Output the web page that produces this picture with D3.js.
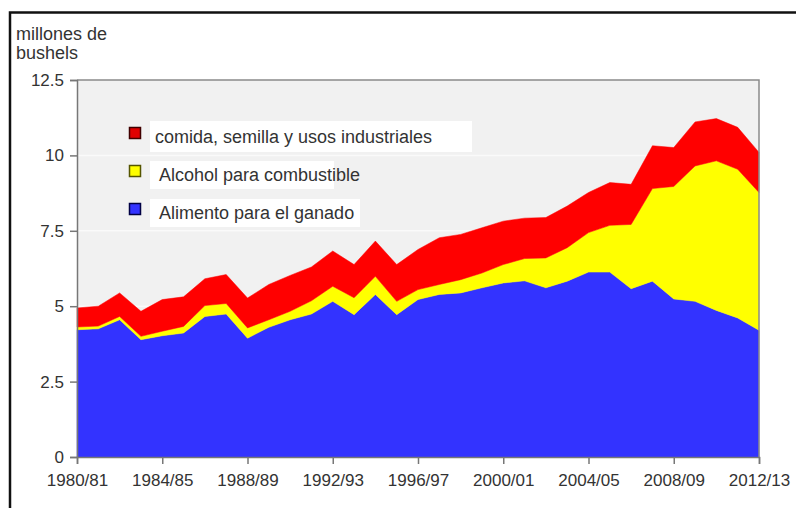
<!DOCTYPE html>
<html>
<head>
<meta charset="utf-8">
<script src="https://cdn.jsdelivr.net/npm/d3@7"></script>
<style>
  body { margin: 0; background: #fff; }
  text { font-family: "Liberation Sans", Arial, sans-serif; fill: #333; }
</style>
</head>
<body>
<div id="chart"></div>
<script>
var width = 796, height = 508;

// campañas 1980/81 .. 2012/13
var seasons = [];
for (var yr = 1980; yr <= 2012; yr++) {
  seasons.push(yr + "/" + String((yr + 1) % 100).padStart(2, "0"));
}
var xTickLabels = ["1980/81", "1984/85", "1988/89", "1992/93", "1996/97",
                   "2000/01", "2004/05", "2008/09", "2012/13"];
var yTicks = [0, 2.5, 5, 7.5, 10, 12.5];

// valores
var feed = [4.22, 4.25, 4.55, 3.89, 4.02, 4.11, 4.66, 4.74, 3.94, 4.30, 4.55,
            4.74, 5.16, 4.72, 5.39, 4.72, 5.22, 5.39, 5.44, 5.61, 5.77, 5.84,
            5.61, 5.83, 6.13, 6.13, 5.58, 5.83, 5.24, 5.16, 4.86, 4.61, 4.20];
var ethanol = [0.09, 0.09, 0.11, 0.11, 0.15, 0.22, 0.36, 0.35, 0.34, 0.25, 0.28,
               0.44, 0.50, 0.56, 0.60, 0.44, 0.33, 0.33, 0.44, 0.49, 0.61, 0.74,
               0.99, 1.11, 1.31, 1.55, 2.13, 3.07, 3.73, 4.49, 4.96, 4.93, 4.57];
var fsi = [0.63, 0.66, 0.78, 0.83, 1.05, 0.98, 0.89, 0.96, 0.99, 1.17, 1.19,
           1.12, 1.17, 1.10, 1.17, 1.22, 1.33, 1.55, 1.50, 1.50, 1.44, 1.34,
           1.34, 1.38, 1.33, 1.42, 1.33, 1.42, 1.29, 1.46, 1.40, 1.39, 1.33];

var keys = ["feed", "ethanol", "fsi"];
var colors = {feed: "#3333ff", ethanol: "#ffff00", fsi: "#ff0000"};
var legendItems = [
  {key: "fsi", label: "comida, semilla y usos industriales", fill: "#e00000", stroke: "#400000", boxW: 322},
  {key: "ethanol", label: " Alcohol para combustible", fill: "#ffff00", stroke: "#555500", boxW: 184},
  {key: "feed", label: " Alimento para el ganado", fill: "#3333ff", stroke: "#000044", boxW: 210}
];

var table = seasons.map(function(s, i) {
  return {season: s, feed: feed[i], ethanol: ethanol[i], fsi: fsi[i]};
});

var plotLeft = 77, plotRight = 759, plotTop = 80, plotBottom = 457;

var svg = d3.select("#chart").append("svg")
    .attr("width", width)
    .attr("height", height);

// marco exterior
svg.append("path")
    .attr("d", "M10," + height + "V12.5H" + width)
    .attr("fill", "none")
    .attr("stroke", "#111")
    .attr("stroke-width", 2.5);

var x = d3.scalePoint().domain(seasons).range([plotLeft, plotRight]);
var y = d3.scaleLinear().domain([0, 12.5]).range([plotBottom, plotTop]);

svg.append("rect")
    .attr("x", plotLeft).attr("y", plotTop)
    .attr("width", plotRight - plotLeft).attr("height", plotBottom - plotTop)
    .attr("fill", "#f1f1f1");

// lineas de cuadricula tenues
svg.append("g").selectAll("line")
    .data(yTicks.slice(1, -1))
    .join("line")
    .attr("x1", plotLeft).attr("x2", plotRight)
    .attr("y1", function(d) { return y(d); })
    .attr("y2", function(d) { return y(d); })
    .attr("stroke", "#fafafa")
    .attr("stroke-width", 1.5);

var stack = d3.stack().keys(keys);
var series = stack(table);

var area = d3.area()
    .x(function(d) { return x(d.data.season); })
    .y0(function(d) { return y(d[0]); })
    .y1(function(d) { return y(d[1]); });

svg.append("g").selectAll("path")
    .data(series)
    .join("path")
    .attr("fill", function(d) { return colors[d.key]; })
    .attr("stroke", function(d) { return colors[d.key]; })
    .attr("stroke-width", 0.5)
    .attr("d", area);

// borde del area de trazado
svg.append("path")
    .attr("d", "M" + plotLeft + "," + plotTop + "H" + plotRight + "V" + plotBottom)
    .attr("fill", "none")
    .attr("stroke", "#8a8a8a")
    .attr("stroke-width", 1.5);

var yAxis = svg.append("g")
    .attr("transform", "translate(" + plotLeft + ",0)")
    .call(d3.axisLeft(y).tickValues(yTicks).tickSize(7).tickPadding(6)
      .tickFormat(function(d) { return String(d); }));

var xAxis = svg.append("g")
    .attr("transform", "translate(0," + plotBottom + ")")
    .call(d3.axisBottom(x).tickValues(xTickLabels).tickSize(7).tickPadding(10));

[yAxis, xAxis].forEach(function(g) {
  g.select(".domain").attr("stroke", "#777").attr("stroke-width", 1.5);
  g.selectAll(".tick line").attr("stroke", "#777").attr("stroke-width", 1.5);
  g.selectAll(".tick text")
      .attr("fill", "#333")
      .style("font-family", "'Liberation Sans', Arial, sans-serif")
      .style("font-size", "17px");
});

// titulo del eje
svg.append("text")
    .attr("x", 16).attr("y", 40)
    .style("font-size", "18px")
    .text("millones de");
svg.append("text")
    .attr("x", 16).attr("y", 59)
    .style("font-size", "18px")
    .text("bushels");

// leyenda
var legend = svg.append("g");
var legendRows = legend.selectAll("g")
    .data(legendItems)
    .join("g")
    .attr("transform", function(d, i) { return "translate(0," + (i * 38) + ")"; });

legendRows.append("rect")
    .attr("x", 150).attr("y", function(d, i) { return i === 0 ? 121 : 123; })
    .attr("width", function(d) { return d.boxW; })
    .attr("height", function(d, i) { return i === 0 ? 31 : 28; })
    .attr("fill", "#fff");

legendRows.append("rect")
    .attr("x", 129.5).attr("y", 127.5)
    .attr("width", 11).attr("height", 11)
    .attr("fill", function(d) { return d.fill; })
    .attr("stroke", function(d) { return d.stroke; })
    .attr("stroke-width", 1.5);

legendRows.append("text")
    .attr("x", 155).attr("y", 143)
    .style("font-size", "18px")
    .style("white-space", "pre")
    .attr("xml:space", "preserve")
    .text(function(d) { return d.label; });
</script>
</body>
</html>
